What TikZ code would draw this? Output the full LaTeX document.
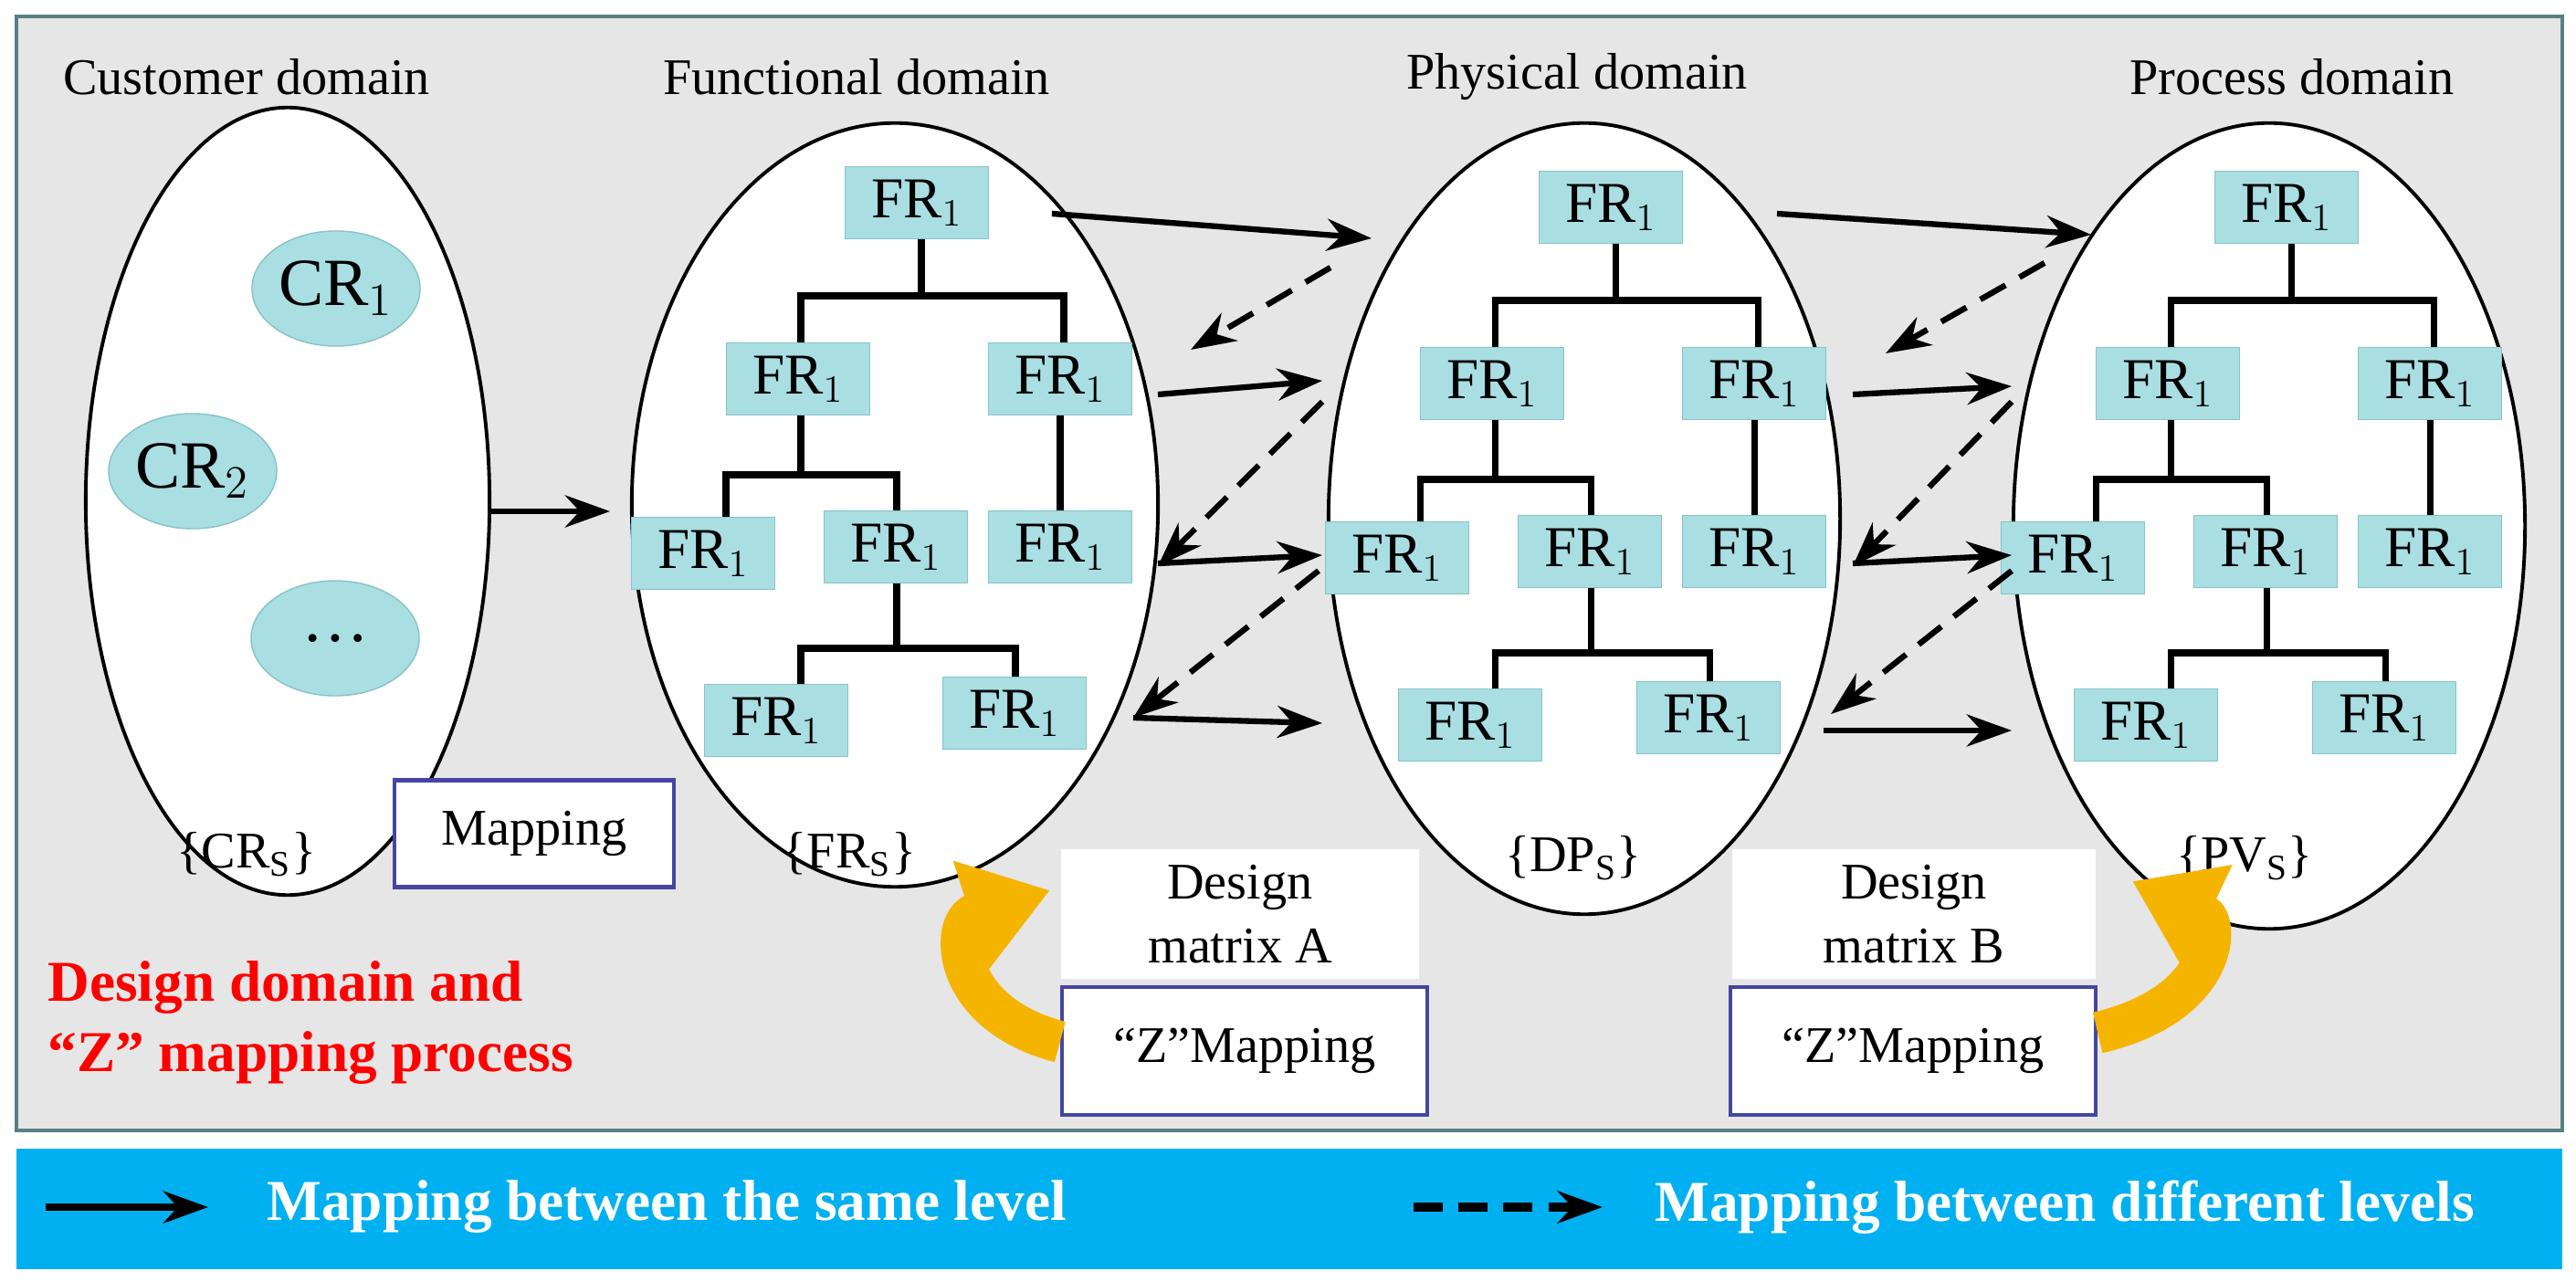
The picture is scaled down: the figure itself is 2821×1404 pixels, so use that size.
\documentclass[tikz,border=0pt]{standalone}
\usepackage{fontspec}
\setmainfont{Liberation Serif}
\usetikzlibrary{arrows.meta,shapes.geometric}
\definecolor{panel}{HTML}{E6E6E6}
\definecolor{frfill}{HTML}{A9DEE2}
\definecolor{frdraw}{HTML}{86C3C8}
\definecolor{bar}{HTML}{00B0F0}
\definecolor{purp}{HTML}{4646A0}
\definecolor{gold}{HTML}{F5B400}
\tikzset{
  dom/.style={ellipse,draw,fill=white,line width=1.1pt,inner sep=0pt},
  fr/.style={draw=frdraw,fill=frfill,minimum width=1.57cm,minimum height=0.79cm,inner sep=0pt,font=\fontsize{18}{18}\selectfont},
  cr/.style={ellipse,draw=frdraw,fill=frfill,minimum width=1.84cm,minimum height=1.26cm,inner sep=0pt,font=\fontsize{21}{21}\selectfont},
  tl/.style={line width=2pt},
  same/.style={line width=1.8pt,-{Stealth[length=14pt,width=10pt]}},
  diff/.style={line width=1.8pt,dash pattern=on 9pt off 5pt,-{Stealth[length=14pt,width=10pt]}},
  lab/.style={font=\fontsize{16}{16}\selectfont},
  mbox/.style={draw=purp,line width=1.2pt,fill=white},
  yarr/.style={gold,line width=13pt,-{Triangle[length=26pt,width=34pt]}}
}
\newcommand\frtree[3]{%
\begin{scope}[shift={(#2,#3)}]
\node[fr] (#1a) at (1004,222) {FR$_1$};
\node[fr] (#1b) at (874,415) {FR$_1$};
\node[fr] (#1c) at (1161,415) {FR$_1$};
\node[fr] (#1d) at (770,606) {FR$_1$};
\node[fr] (#1e) at (981,599) {FR$_1$};
\node[fr] (#1f) at (1161,599) {FR$_1$};
\node[fr] (#1g) at (850,789) {FR$_1$};
\node[fr] (#1h) at (1111,781) {FR$_1$};
\draw[tl] (#1a.south -| 1009,0) -- (1009,324);
\draw[tl] (#1b.north -| 877,0) |- (1165,324) -- (#1c.north -| 1165,0);
\draw[tl] (#1b.south -| 877,0) -- (877,520);
\draw[tl] (#1d.north -| 795,0) |- (982,520) -- (#1e.north -| 982,0);
\draw[tl] (#1c.south) -- (#1f.north);
\draw[tl] (#1e.south -| 982,0) -- (982,710);
\draw[tl] (#1g.north -| 877,0) |- (1112,710) -- (#1h.north -| 1112,0);
\end{scope}}
\begin{document}
\begin{tikzpicture}[x=0.01cm,y=-0.01cm]
\useasboundingbox (0,0) rectangle (2821,1404);
\fill[white] (0,0) rectangle (2821,1404);
\draw[fill=panel,draw=gray!70!teal,line width=1pt] (18,18) rectangle (2806,1238);
\fill[bar] (18,1258) rectangle (2806,1390);
% labels
\node[lab] (lc) at (270,84) {Customer domain};
\node[lab] (lf) at (938,84) {Functional domain};
\node[lab] (lp) at (1727,84) {Physical domain};
\node[lab] (lr) at (2510,84) {Process domain};
% ellipses
\node[dom,minimum width=4.42cm,minimum height=8.62cm] (ec) at (315,549) {};
\node[dom,minimum width=5.76cm,minimum height=8.36cm] (ef) at (980,553) {};
\node[dom,minimum width=5.6cm,minimum height=8.66cm] (ep) at (1735,568) {};
\node[dom,minimum width=5.6cm,minimum height=8.82cm] (er) at (2485,576) {};
% CRs
\node[cr] (c1) at (368,316) {CR$_1$};
\node[cr] (c2) at (211,516) {CR$_2$};
\node[cr] (c3) at (367,699) {\dots};
\frtree{f}{0}{0}
\frtree{p}{760}{5}
\frtree{r}{1500}{5}
\node[lab] (sc) at (270,936) {\{CR$_\mathrm{S}$\}};
\node[lab] (sf) at (930,936) {\{FR$_\mathrm{S}$\}};
\node[lab] (sp) at (1723,940) {\{DP$_\mathrm{S}$\}};
\node[lab] (sr) at (2458,940) {\{PV$_\mathrm{S}$\}};
% customer -> functional
\coordinate (k1) at (536,560); \coordinate (k2) at (668,560);
\draw[same] (k1) -- (k2);
% functional <-> physical
\coordinate (a1) at (1152,234); \coordinate (a2) at (1502,261);
\coordinate (a3) at (1268,432); \coordinate (a4) at (1448,417);
\coordinate (a5) at (1268,617); \coordinate (a6) at (1448,608);
\coordinate (a7) at (1241,786); \coordinate (a8) at (1448,792);
\draw[same] (a1) -- (a2); \draw[same] (a3) -- (a4);
\draw[same] (a5) -- (a6); \draw[same] (a7) -- (a8);
\coordinate (d1) at (1457,293); \coordinate (d2) at (1304,383);
\coordinate (d3) at (1448,440); \coordinate (d4) at (1268,620);
\coordinate (d5) at (1444,625); \coordinate (d6) at (1241,786);
\draw[diff] (d1) -- (d2); \draw[diff] (d3) -- (d4); \draw[diff] (d5) -- (d6);
% physical <-> process
\coordinate (b1) at (1946,234); \coordinate (b2) at (2290,257);
\coordinate (b3) at (2029,432); \coordinate (b4) at (2203,423);
\coordinate (b5) at (2029,617); \coordinate (b6) at (2203,608);
\coordinate (b7) at (1997,800); \coordinate (b8) at (2203,800);
\draw[same] (b1) -- (b2); \draw[same] (b3) -- (b4);
\draw[same] (b5) -- (b6); \draw[same] (b7) -- (b8);
\coordinate (e1) at (2239,288); \coordinate (e2) at (2065,387);
\coordinate (e3) at (2203,440); \coordinate (e4) at (2029,620);
\coordinate (e5) at (2203,625); \coordinate (e6) at (2005,782);
\draw[diff] (e1) -- (e2); \draw[diff] (e3) -- (e4); \draw[diff] (e5) -- (e6);
% mapping box
\node[mbox,minimum width=3.06cm,minimum height=1.17cm,lab] (mp) at (585,913) {Mapping};
\node[font=\fontsize{18}{22}\selectfont\bfseries,text=red,align=left,anchor=north west] (tt) at (40,1040) {Design domain and\\“Z” mapping process};
% design matrices
\node[fill=white,minimum width=3.91cm,minimum height=1.42cm,lab,align=center] (dma) at (1358,1001) {Design\\[4pt]matrix A};
\node[fill=white,minimum width=3.97cm,minimum height=1.42cm,lab,align=center] (dmb) at (2096,1001) {Design\\[4pt]matrix B};
\node[mbox,minimum width=4cm,minimum height=1.4cm,lab] (za) at (1363,1151) {“Z”Mapping};
\node[mbox,minimum width=4cm,minimum height=1.4cm,lab] (zb) at (2095,1151) {“Z”Mapping};
\draw[yarr] (za.west) ++(0,-10) .. controls (1040,1110) and (1040,1010) .. (1150,975);
\draw[yarr] (zb.east) ++(0,-20) .. controls (2430,1100) and (2430,1010) .. (2335,965);
% legend
\coordinate (l1) at (50,1322); \coordinate (l2) at (228,1322);
\coordinate (l3) at (1548,1322); \coordinate (l4) at (1755,1322);
\draw[same,line width=2.2pt] (l1) -- (l2);
\draw[diff,line width=2.6pt] (l3) -- (l4);
\node[font=\fontsize{18}{18}\selectfont\bfseries,text=white,anchor=west] (t1) at (280,1322) {Mapping between the same level};
\node[font=\fontsize{18}{18}\selectfont\bfseries,text=white,anchor=west] (t2) at (1800,1322) {Mapping between different levels};
\end{tikzpicture}
\end{document}
